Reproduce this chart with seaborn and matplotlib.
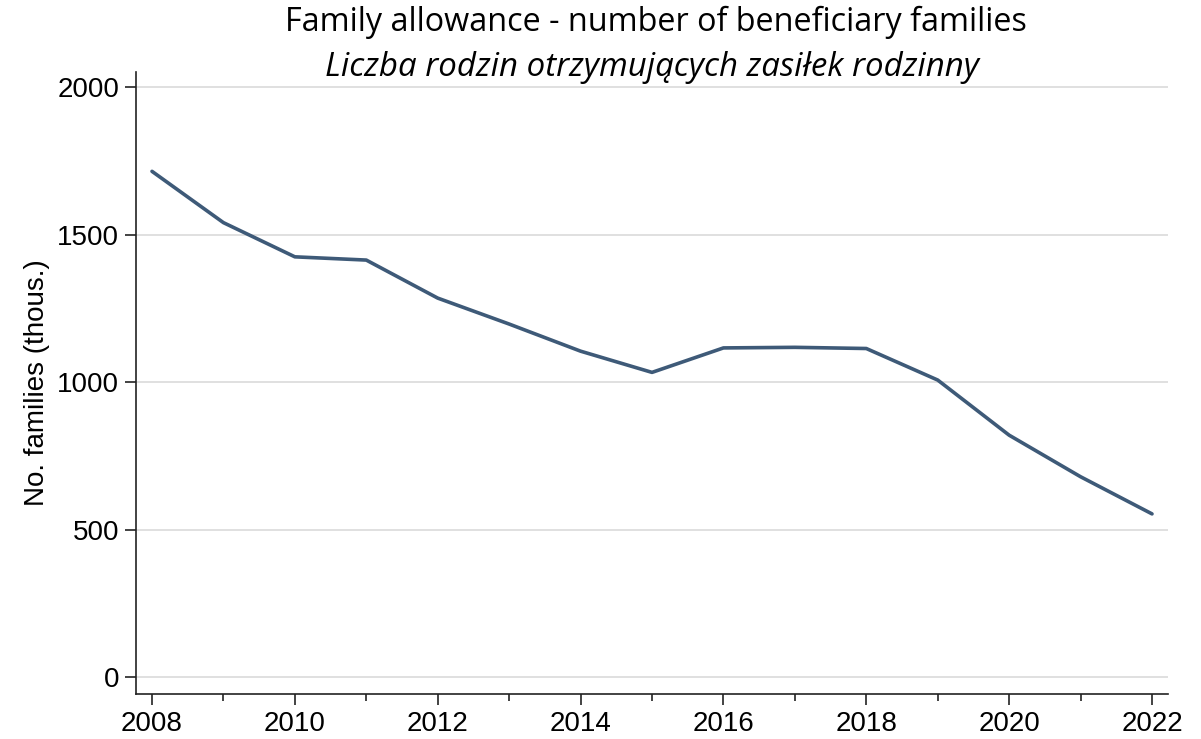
import matplotlib
matplotlib.use("Agg")
import matplotlib.pyplot as plt
import pandas as pd
import seaborn as sns
from matplotlib.ticker import MultipleLocator

# Data (thousands of families)
years = [2008, 2009, 2010, 2011, 2012, 2013, 2014, 2015,
         2016, 2017, 2018, 2019, 2020, 2021, 2022]
families = [1715, 1541, 1425, 1414, 1285, 1197, 1105, 1033,
            1116, 1118, 1114, 1007, 820, 679, 553]

x_ticks = [2008, 2010, 2012, 2014, 2016, 2018, 2020, 2022]
y_ticks = [0, 500, 1000, 1500, 2000]

title_en = "Family allowance - number of beneficiary families"
title_pl = "Liczba rodzin otrzymujących zasiłek rodzinny"
y_label = "No. families (thous.)"

df = pd.DataFrame({"year": years, "families": families})

sns.set_theme(style="white")
plt.rcParams["font.family"] = ["Liberation Sans", "DejaVu Sans"]

fig = plt.figure(figsize=(12.01, 7.39), dpi=100)
ax = fig.add_axes([136 / 1201, 1 - 694 / 739, (1168 - 136) / 1201, (694 - 72) / 739])

sns.lineplot(data=df, x="year", y="families", color="#3e5a78", linewidth=2.6, ax=ax)

ax.set_xlim(2007.776, 2022.224)
ax.set_ylim(-58, 2052)
ax.set_xticks(x_ticks)
ax.set_yticks(y_ticks)
ax.xaxis.set_minor_locator(MultipleLocator(1))
ax.tick_params(axis="both", which="major", direction="out", length=8, width=1.2,
               color="#222222", labelsize=20, labelcolor="black", pad=4,
               bottom=True, left=True)
ax.tick_params(axis="x", which="minor", direction="out", length=5, width=1.2,
               color="#222222", bottom=True)

ax.grid(axis="y", color="#e0e0e0", linewidth=1.4)
ax.grid(axis="x", visible=False)
for side in ["top", "right"]:
    ax.spines[side].set_visible(False)
for side in ["left", "bottom"]:
    ax.spines[side].set_color("#222222")
    ax.spines[side].set_linewidth(1.2)

ax.set_xlabel("")
ax.set_ylabel(y_label, fontsize=20, color="black", labelpad=5)

fig.text(656 / 1201, 1 - 22 / 739, title_en, ha="center", va="center",
         fontsize=23.3, family=["Open Sans", "DejaVu Sans"], color="black")
fig.text(652 / 1201, 1 - 68 / 739, title_pl, ha="center", va="center",
         fontsize=23.8, style="italic", family=["Open Sans", "DejaVu Sans"], color="black")

fig.savefig("out.png", dpi=100)
